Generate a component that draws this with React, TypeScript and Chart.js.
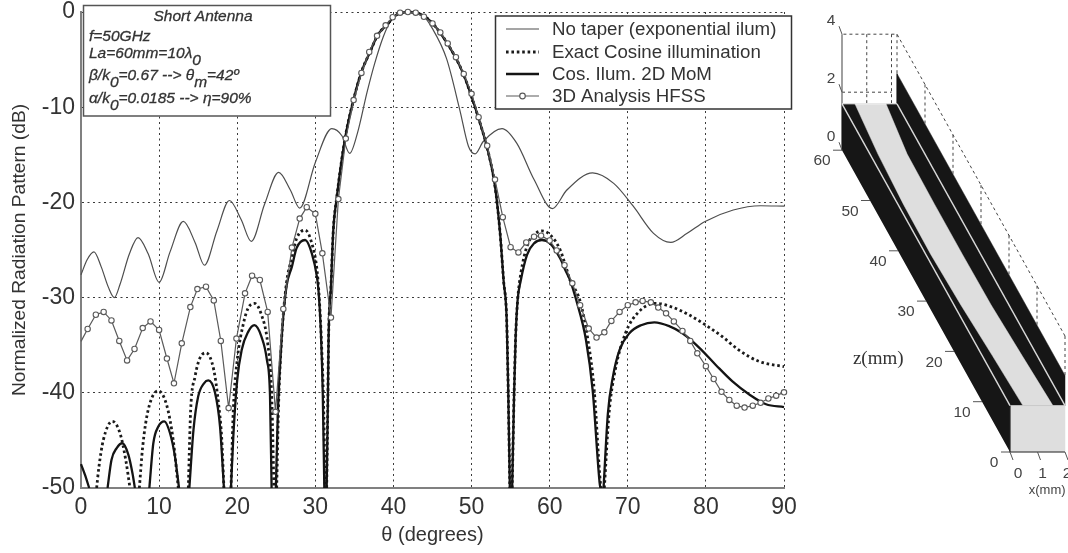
import React, { useEffect, useRef } from "react";
import { Chart, registerables } from "chart.js";

Chart.register(...registerables);

const SANS = "'Liberation Sans', Arial, sans-serif";
const INK = "#333333";

// ---- radiation pattern data (theta in degrees, level in dB; null breaks the trace at a null)
const noTaperTheta = [0, 0.8, 1.66, 2.6, 3.5, 4.27, 5, 6.2, 7.3, 8.6, 10, 11.4, 13.1, 14.6, 15.8, 17.4, 19, 20.5, 21.8, 23.5, 25.3, 26.8, 28, 30, 32.1, 33.4, 34.4, 35.4, 36.6, 37.6, 38.7, 39.6, 40.4, 41.5, 42.3, 43.4, 45.1, 46.8, 48.5, 49.6, 50.45, 51.5, 53.9, 55.8, 58, 60.35, 62.2, 65.5, 68.2, 70.7, 73.3, 75.5, 77.6, 79.9, 83.5, 87, 90];
const noTaperDb = [-27.6, -26, -25.2, -26.8, -28.9, -30, -28.6, -25.4, -23.7, -25.4, -28.4, -25.2, -22, -24.2, -26.6, -23, -19.8, -21.8, -24.1, -20.2, -16.85, -18.7, -20.6, -15.8, -12.25, -13, -14.85, -12.7, -8.5, -5.4, -2.6, -1, -0.3, 0, 0, -0.1, -1.9, -4.9, -10.3, -14.1, -14.9, -13.6, -12.25, -13.8, -17.6, -20.65, -18.7, -16.9, -18, -20.4, -23.25, -24.2, -23.25, -22, -20.8, -20.35, -20.4];

const exactTheta = [2, 2.3, 2.86, 4, 5, 5.76, 6.27, 6.9, 7.47, 7.9, 8.6, 9.9, 10.97, 11.8, 12.46, 13, 13.74, 14.04, 14.6, 15.2, 16, 17, 17.6, 18, 18.3, 18.8, 19.2, 19.5, 20, 20.8, 21.4, 22.2, 23.1, 23.9, 24.4, 24.7, 24.9, 25.05, 25.3, 25.7, 26.3, 27, 27.6, 28.7, 29.55, 30.2, 30.5, 30.8, 31.05, 31.25, 31.35, 31.45, 31.6, 31.7, 32, 32.3, 32.7, 33.8, 34.9, 35.9, 37, 38, 39.1, 40.4, 42, 44.3, 46, 47.9, 49, 50, 51.1, 51.95, 53, 53.65, 54.1, 54.5, 54.7, 54.9, 55.05, 55.2, 55.45, 55.65, 55.9, 56.3, 57.1, 58, 59, 60.05, 61.35, 62.2, 62.6, 63.85, 64.9, 65.7, 66.5, 66.6, 66.75, 67, 67.6, 68.4, 69.7, 71.4, 73.55, 75.7, 77.8, 80, 82.1, 84.2, 86.8, 90];
const exactDb = [-50, -47.75, -44.95, -43, -44.25, -47.2, -50, null, -50, -45.65, -41.8, -39.8, -41.3, -44.95, -50, null, -50, -41.8, -38.3, -36.4, -35.8, -37.6, -41.1, -44.6, -50, null, -50, -41.8, -36.55, -32.7, -31.1, -30.6, -31.8, -34.8, -40, -50, null, -50, -41.1, -34.1, -28.5, -25.8, -23.8, -22.9, -24.3, -27, -30, -35, -41, -50, null, -50, -41.1, -34.1, -28.85, -22.9, -19.75, -13.3, -9.2, -6.3, -4.2, -2.4, -1.4, -0.3, 0, -0.65, -2.2, -4.7, -6.6, -8.9, -11.7, -14.1, -18.3, -23.2, -28.2, -32.35, -40, -50, null, -50, -40, -34, -30.25, -27.5, -24.6, -23.4, -23, -23.4, -25, -27.1, -28.15, -30.25, -34.45, -39.7, -49.5, -50, null, -50, -42.2, -37.6, -33.75, -31.5, -30.6, -31, -31.8, -32.9, -34.1, -35.5, -36.7, -37.25];

const momTheta = [0, 0.5, 1.05, 2.2, 3.4, 3.9, 4.57, 5.3, 6.06, 6.6, 6.9, 7.8, 8.75, 9.26, 9.9, 10.67, 11.4, 12.03, 12.55, 13.2, 13.87, 14.4, 15, 15.75, 16.3, 17.16, 17.8, 18.3, 18.8, 19.2, 19.5, 20, 20.57, 21.4, 22.2, 23.1, 23.8, 24.2, 24.4, 24.7, 24.95, 25.2, 25.7, 26.3, 27, 27.6, 28.7, 29.55, 30.2, 30.4, 30.7, 30.95, 31.15, 31.3, 31.45, 31.6, 31.7, 32, 32.3, 32.7, 33.8, 34.9, 35.9, 37, 38, 39.1, 40.4, 42, 44.3, 46, 47.9, 49, 50, 51.1, 51.95, 53, 53.65, 54.1, 54.5, 54.7, 54.9, 55.05, 55.2, 55.45, 55.65, 55.9, 56.3, 57.1, 58, 59, 60.05, 61.35, 62, 62.6, 63.4, 64.65, 65.5, 66.4, 66.5, 66.7, 66.9, 67.45, 68.1, 68.95, 70.2, 71.7, 73.4, 75.3, 77, 79.2, 81.3, 83.4, 85.6, 87.7, 90];
const momDb = [-47.5, -48.6, -50, null, -50, -47.05, -45.8, -45.3, -46.5, -48.5, -50, null, -50, -45.3, -43.55, -43, -44.25, -46.7, -50, null, -50, -43.9, -40.4, -39, -38.7, -40, -43.55, -50, null, -50, -44.6, -38.65, -35.5, -33.6, -32.9, -34.1, -36.55, -40.4, -50, null, -50, -42.15, -34.1, -28.85, -26.75, -24.8, -23.95, -25.35, -27.8, -29.2, -33.4, -40, -50, null, -50, -41.1, -34.1, -28.85, -22.9, -19.75, -13.3, -9.2, -6.3, -4.2, -2.4, -1.4, -0.3, 0, -0.65, -2.2, -4.7, -6.6, -8.9, -11.7, -14.1, -18.3, -23.2, -28.2, -32.35, -40, -50, null, -50, -40, -34, -30.25, -28.2, -25.5, -24.3, -23.95, -24.3, -25.9, -27.1, -28.15, -30.25, -34.45, -39.7, -49.5, -50, null, -50, -42.2, -38.3, -35.5, -33.75, -32.9, -32.6, -33, -33.75, -35.3, -37.1, -38.8, -40.2, -41.2, -41.5];

const hfssTheta = [0, 0.85, 1.9, 2.9, 3.9, 4.9, 5.9, 6.85, 7.9, 8.9, 10, 11, 11.9, 12.9, 14, 14.9, 16, 17, 17.9, 18.9, 19.9, 21, 21.9, 22.9, 23.9, 24.9, 25.9, 27, 28, 28.9, 30, 30.9, 32, 32.95, 33.9, 34.9, 35.9, 36.9, 37.9, 39, 39.9, 40.85, 41.85, 42.85, 43.9, 45, 46, 46.95, 48, 49, 50, 50.9, 52, 53, 54, 55, 56, 57, 58, 58.9, 60, 60.9, 61.9, 62.9, 63.9, 65, 66, 67, 67.9, 68.95, 70, 71, 71.9, 72.95, 73.9, 74.9, 75.9, 77, 78, 78.9, 80, 81, 82, 83, 83.95, 84.95, 86, 87, 88, 89, 90];
const hfssDb = [-34.6, -33.3, -31.8, -31.5, -32.4, -34.55, -36.6, -35.4, -33.2, -32.5, -33.4, -36.4, -39, -34.8, -31, -29.1, -28.85, -30.3, -34.55, -41.6, -34.3, -29.55, -27.7, -28.15, -31.5, -42, -31.2, -24.75, -21.7, -20.5, -21.2, -25.35, -32.1, -19.65, -13.3, -9.25, -6.4, -4.2, -2.5, -1.4, -0.55, -0.07, 0, -0.07, -0.5, -1.2, -2.15, -3.3, -4.75, -6.5, -8.6, -11.05, -14.05, -17.6, -21.55, -24.7, -25.25, -24.2, -23.6, -23.5, -24, -25.05, -26.6, -28.5, -30.8, -33.25, -34.2, -33.65, -32.45, -31.5, -30.8, -30.5, -30.35, -30.5, -31.05, -31.65, -32.5, -33.5, -34.55, -35.85, -37.2, -38.55, -39.9, -40.75, -41.35, -41.55, -41.35, -41.05, -40.6, -40.3, -39.95];

const xTicks = [0, 10, 20, 30, 40, 50, 60, 70, 80, 90];
const yTicks = [0, -10, -20, -30, -40, -50];

const noteTitle = "Short Antenna";
const noteRows: [string, string, string, string, string][] = [
  ["f=50GHz", "", "", "", ""],
  ["La=60mm=10\u03bb", "0", "", "", ""],
  ["\u03b2/k", "0", "=0.67 --> \u03b8", "m", "=42\u00ba"],
  ["\u03b1/k", "0", "=0.0185 --> \u03b7=90%", "", ""],
];

const toPoints = (xs: number[], ys: (number | null)[]) => xs.map((x, i) => ({ x, y: ys[i] }));

// ---- antenna geometry, in mm
const stripZ = [0, 10, 20, 30, 40, 50, 60];
const stripLeft = [0.47, 0.37, 0.25, 0.18, 0.2, 0.29, 0.47];
const stripRight = [1.56, 1.45, 1.35, 1.33, 1.33, 1.35, 1.6];
const wallHeight = 1.6;
const farWallTop = 2.64;
const boxHeight = 4;
const widthMm = 2;
const lengthMm = 60;
const zTicks = [0, 10, 20, 30, 40, 50, 60];
const hTicks = [0, 2, 4];
const wTicks = [0, 1, 2];

// oblique view of the guide: mm to the view plane of the inset
const view = (x: number, h: number, z: number) => ({
  x: 210 + 27.5 * x - 2.8 * z,
  y: 452 - 29 * h - 5.03 * z,
});

const BLACK = "#161616";
const GREY = "#dedede";

const shape = (pts: { x: number; y: number }[], color: string) => ({
  data: pts,
  showLine: true,
  fill: "shape",
  backgroundColor: color,
  borderColor: color,
  borderWidth: 0.5,
  pointRadius: 0,
  tension: 0,
});
const rule = (pts: { x: number; y: number }[], color: string, width: number, dash: number[] = []) => ({
  data: pts,
  showLine: true,
  fill: false,
  borderColor: color,
  borderWidth: width,
  borderDash: dash,
  pointRadius: 0,
  tension: 0,
});

function insetDatasets() {
  const h = wallHeight;
  const L = lengthMm;
  const W = widthMm;
  const dash = [3, 3];
  const sets: any[] = [
    // far wall and top
    shape([view(W, h, 0), view(W, farWallTop, 0), view(W, farWallTop, L), view(W, h, L)], BLACK),
    shape([view(0, h, 0), view(W, h, 0), view(W, h, L), view(0, h, L)], BLACK),
    // near wall
    shape([view(0, 0, 0), view(0, h, 0), view(0, h, L), view(0, 0, L)], BLACK),
    // tapered strip
    shape(
      [
        ...stripZ.map((z, i) => view(stripLeft[i], h, z)),
        ...stripZ.map((z, i) => view(stripRight[i], h, z)).reverse(),
      ],
      GREY
    ),
    // front face
    shape([view(0, 0, 0), view(W, 0, 0), view(W, h, 0), view(0, h, 0)], GREY),
    rule([view(0, h, 0), view(0, 0, 0), view(W, 0, 0)], "#222222", 1.2),
    // light edges
    rule([view(0, h, 0), view(0, h, L)], "#d8d8d8", 1.4),
    rule([view(W, h, 0), view(W, h, L)], "#d8d8d8", 1.4),
    // dashed bounding box
    rule([view(W, boxHeight, 0), view(W, boxHeight, L), view(0, boxHeight, L)], "#444444", 1, dash),
    rule([view(0, 2, L), view(W - 0.2, 2, L)], "#444444", 1, dash),
    rule([view(0.9, boxHeight, L), view(0.9, h, L)], "#444444", 1, dash),
    rule([view(W - 0.2, boxHeight, L), view(W - 0.2, h, L)], "#444444", 1, dash),
    rule([view(W, boxHeight, L), view(W, farWallTop, L)], "#444444", 1, dash),
    rule([view(0, h, L), view(0, boxHeight, L)], "#777777", 1.4),
    rule([view(0, h, L), view(W, h, L)], "#ffffff", 1),
  ];
  zTicks
    .filter((z) => z < L)
    .forEach((z) => {
      sets.push(rule([view(W, boxHeight, z), view(W, farWallTop, z)], "#444444", 1, dash));
    });
  zTicks.forEach((z) => {
    const p = view(0, 0, z);
    sets.push(rule([p, { x: p.x - 9, y: p.y }], "#555555", 1));
  });
  wTicks.forEach((w) => {
    const p = view(w, 0, 0);
    sets.push(rule([p, { x: p.x + 3, y: p.y + 8 }], "#555555", 1));
  });
  hTicks.forEach((v) => {
    const p = view(0, v, L);
    sets.push(rule([p, { x: p.x - 3, y: p.y - 8 }], "#555555", 1));
  });
  // Chart.js paints the first dataset last, so the painter's order above is reversed here
  return sets.reverse();
}

const insetLabels = {
  id: "insetLabels",
  afterDatasetsDraw(chart: any) {
    const { ctx, scales } = chart;
    const at = (p: { x: number; y: number }) => [scales.x.getPixelForValue(p.x), scales.y.getPixelForValue(p.y)];
    ctx.save();
    ctx.fillStyle = "#444444";
    ctx.textAlign = "center";
    ctx.textBaseline = "middle";
    ctx.font = `15.5px ${SANS}`;
    zTicks.forEach((z) => {
      const [x, y] = at(view(0, 0, z));
      const offs = z === 0 ? [-16, 11] : [-20, 11];
      ctx.fillText(String(z), x + offs[0], y + offs[1]);
    });
    hTicks.forEach((v) => {
      const [x, y] = at(view(0, v, lengthMm));
      ctx.fillText(String(v), x - 11, y - 13);
    });
    wTicks.forEach((w) => {
      const [x, y] = at(view(w, 0, 0));
      ctx.fillText(String(w), x + 8 - w * 3, y + 22);
    });
    ctx.font = `13px ${SANS}`;
    const [xx, xy] = at(view(1.35, 0, 0));
    ctx.fillText("x(mm)", xx, xy + 38);
    ctx.font = "19px 'Liberation Serif', serif";
    ctx.fillStyle = "#333333";
    const [zx, zy] = at(view(0, 0, 18.5));
    ctx.fillText("z(mm)", zx - 80, zy);
    ctx.restore();
  },
};

const notePlugin = {
  id: "notePlugin",
  afterDatasetsDraw(chart: any) {
    const { ctx } = chart;
    ctx.save();
    ctx.fillStyle = "#ffffff";
    ctx.strokeStyle = "#555555";
    ctx.lineWidth = 1.5;
    ctx.fillRect(83.5, 5.5, 247, 110.5);
    ctx.strokeRect(83.5, 5.5, 247, 110.5);
    ctx.fillStyle = INK;
    ctx.strokeStyle = INK;
    ctx.lineWidth = 0.3;
    ctx.font = `italic 15.5px ${SANS}`;
    ctx.textAlign = "center";
    ctx.textBaseline = "alphabetic";
    ctx.fillText(noteTitle, 203, 21);
    ctx.strokeText(noteTitle, 203, 21);
    ctx.textAlign = "left";
    const baselines = [41, 58, 80, 103];
    noteRows.forEach((row, r) => {
      let x = 89;
      row.forEach((part, i) => {
        if (!part) return;
        const sub = i % 2 === 1;
        ctx.fillText(part, x, baselines[r] + (sub ? 7 : 0));
        ctx.strokeText(part, x, baselines[r] + (sub ? 7 : 0));
        x += ctx.measureText(part).width;
      });
    });
    ctx.restore();
  },
};

const legendPlugin = {
  id: "boxLegend",
  afterDatasetsDraw(chart: any) {
    const { ctx } = chart;
    ctx.save();
    ctx.fillStyle = "#ffffff";
    ctx.strokeStyle = "#333333";
    ctx.lineWidth = 1.5;
    ctx.fillRect(495.5, 16, 296, 93);
    ctx.strokeRect(495.5, 16, 296, 93);
    const rows = [29, 52, 74, 96];
    chart.data.datasets.forEach((ds: any, i: number) => {
      ctx.save();
      ctx.strokeStyle = ds.borderColor;
      ctx.lineWidth = ds.borderWidth;
      ctx.setLineDash(ds.borderDash || []);
      ctx.beginPath();
      ctx.moveTo(506, rows[i]);
      ctx.lineTo(539, rows[i]);
      ctx.stroke();
      if (ds.legendMarker) {
        ctx.setLineDash([]);
        ctx.fillStyle = "#ffffff";
        ctx.beginPath();
        ctx.arc(522.5, rows[i], 2.8, 0, Math.PI * 2);
        ctx.fill();
        ctx.stroke();
      }
      ctx.restore();
      ctx.fillStyle = INK;
      ctx.font = `18.7px ${SANS}`;
      ctx.textAlign = "left";
      ctx.textBaseline = "middle";
      ctx.fillText(ds.label, 552, rows[i] + 0.5);
    });
    ctx.restore();
  },
};

export default function App() {
  const mainRef = useRef<HTMLCanvasElement | null>(null);
  const insetRef = useRef<HTMLCanvasElement | null>(null);

  useEffect(() => {
    document.body.style.margin = "0";
    document.body.style.background = "#ffffff";

    // traces may overrun the 0 dB line a little but stop at the -50 dB axis
    const common = {
      showLine: true,
      pointRadius: 0,
      fill: false,
      clip: { top: 5, left: 2, right: 5, bottom: 0 },
    };
    const main = new Chart(mainRef.current as any, {
      type: "scatter",
      data: {
        datasets: [
          {
            ...common,
            label: "No taper (exponential ilum)",
            data: toPoints(noTaperTheta, noTaperDb),
            borderColor: "#4d4d4d",
            borderWidth: 1.2,
            cubicInterpolationMode: "monotone",
            order: 3,
          },
          {
            ...common,
            label: "Exact Cosine illumination",
            data: toPoints(exactTheta, exactDb),
            borderColor: "#1a1a1a",
            borderWidth: 2.8,
            borderDash: [2.6, 2.8],
            cubicInterpolationMode: "monotone",
            order: 2,
          },
          {
            ...common,
            label: "Cos. Ilum. 2D MoM",
            data: toPoints(momTheta, momDb),
            borderColor: "#141414",
            borderWidth: 2.3,
            cubicInterpolationMode: "monotone",
            order: 1,
          },
          {
            ...common,
            label: "3D Analysis HFSS",
            data: toPoints(hfssTheta, hfssDb),
            borderColor: "#5a5a5a",
            borderWidth: 1.2,
            tension: 0,
            pointRadius: (c: any) => (c.dataIndex === 0 ? 0 : 2.7),
            pointBackgroundColor: "#ffffff",
            pointBorderColor: "#5a5a5a",
            pointBorderWidth: 1.1,
            legendMarker: true,
            order: 0,
          } as any,
        ],
      },
      options: {
        animation: false,
        responsive: false,
        layout: { autoPadding: false, padding: { top: 12, right: 284, left: 0, bottom: 0 } },
        plugins: { legend: { display: false }, tooltip: { enabled: false } },
        scales: {
          x: {
            type: "linear",
            min: 0,
            max: 90,
            afterBuildTicks: (s: any) => {
              s.ticks = xTicks.map((value) => ({ value }));
            },
            afterFit: (s: any) => {
              s.height = 65;
              s.paddingLeft = 0;
              s.paddingRight = 0;
            },
            grid: { color: "#3a3a3a", lineWidth: 1, drawTicks: false },
            border: { color: "#808080", width: 2, dash: [2, 3.5] },
            ticks: {
              color: INK,
              font: { family: "Liberation Sans", size: 23 },
              padding: 6,
              maxRotation: 0,
              autoSkip: false,
            },
            title: {
              display: true,
              text: "\u03b8 (degrees)",
              color: INK,
              font: { family: "Liberation Sans", size: 20 },
              padding: { top: 0, bottom: 6 },
            },
          },
          y: {
            type: "linear",
            min: -50,
            max: 0,
            afterBuildTicks: (s: any) => {
              s.ticks = yTicks.map((value) => ({ value }));
            },
            afterFit: (s: any) => {
              s.width = 81;
              s.paddingTop = 0;
              s.paddingBottom = 0;
            },
            grid: { color: "#3a3a3a", lineWidth: 1, drawTicks: false },
            border: { color: "#808080", width: 2, dash: [2, 3.5] },
            ticks: {
              color: INK,
              font: { family: "Liberation Sans", size: 23 },
              padding: 6,
              autoSkip: false,
            },
            title: {
              display: true,
              text: "Normalized Radiation Pattern (dB)",
              color: INK,
              font: { family: "Liberation Sans", size: 19.2 },
              padding: { top: 8, bottom: 0 },
            },
          },
        },
      } as any,
      plugins: [notePlugin, legendPlugin],
    } as any);

    const inset = new Chart(insetRef.current as any, {
      type: "scatter",
      data: { datasets: insetDatasets() },
      options: {
        animation: false,
        responsive: false,
        layout: { padding: 0 },
        plugins: { legend: { display: false }, tooltip: { enabled: false } },
        scales: {
          x: { type: "linear", min: 0, max: 268, display: false },
          y: { type: "linear", min: 0, max: 553, reverse: true, display: false },
        },
      } as any,
      plugins: [insetLabels],
    } as any);

    return () => {
      main.destroy();
      inset.destroy();
    };
  }, []);

  return (
    <div style={{ position: "relative", width: 1068, height: 553, overflow: "hidden", background: "#fff" }}>
      <canvas
        ref={mainRef}
        width={1068}
        height={553}
        style={{ position: "absolute", left: 0, top: 0, width: 1068, height: 553, filter: "blur(0.55px)" }}
      />
      <canvas
        ref={insetRef}
        width={268}
        height={553}
        style={{ position: "absolute", left: 800, top: 0, width: 268, height: 553, filter: "blur(0.55px)" }}
      />
    </div>
  );
}
